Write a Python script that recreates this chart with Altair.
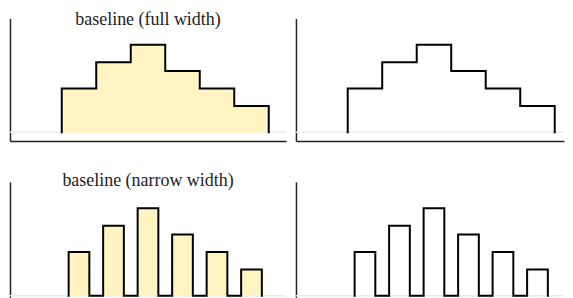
import altair as alt
import pandas as pd

values = [5, 8, 10, 7, 5, 3]
edges = [1, 2, 3, 4, 5, 6, 7]
narrow = 0.6
titles = ["baseline (full width)", "baseline (narrow width)"]
fill_color = "#fff4c2"

W, H = 277, 123
W_RIGHT = 269  # right column cut at the page edge

# full-width bins
full_rects = pd.DataFrame({"x": edges[:-1], "x2": edges[1:], "y": [0] * len(values), "y2": values})
full_pts = [(edges[0], 0)]
for i, v in enumerate(values):
    full_pts.append((edges[i], v))
    full_pts.append((edges[i + 1], v))
full_pts.append((edges[-1], 0))
full_line = pd.DataFrame({"x": [p[0] for p in full_pts], "y": [p[1] for p in full_pts], "o": range(len(full_pts))})

# narrow-width bins
centers = [(edges[i] + edges[i + 1]) / 2 for i in range(len(values))]
lo = [c - narrow / 2 for c in centers]
hi = [c + narrow / 2 for c in centers]
narrow_rects = pd.DataFrame({"x": lo, "x2": hi, "y": [0] * len(values), "y2": values})
n_pts = []
for i, v in enumerate(values):
    n_pts += [(lo[i], 0), (lo[i], v), (hi[i], v), (hi[i], 0)]
narrow_line = pd.DataFrame({"x": [p[0] for p in n_pts], "y": [p[1] for p in n_pts], "o": range(len(n_pts))})

x_lo, x_hi = -0.5, 7.5
ys = alt.Scale(domain=[-1, 13], nice=False, zero=False)
ax = alt.Axis(title=None, labels=False, ticks=False, grid=False, domain=True)


def panel(rects, line, filled, width, title=None, ty=6.7):
    xs = alt.Scale(domain=[x_lo, x_lo + (x_hi - x_lo) * width / W], nice=False, zero=False)
    base_rule = alt.Chart(pd.DataFrame({"y": [0]})).mark_rule(color="#ebebeb", strokeWidth=1.5).encode(
        y=alt.Y("y:Q", scale=ys, axis=ax), x=alt.value(0), x2=alt.value(width)
    )
    layers = [base_rule]
    if filled:
        layers.append(
            alt.Chart(rects).mark_rect(fill=fill_color, stroke=fill_color, strokeWidth=1).encode(
                x=alt.X("x:Q", scale=xs, axis=ax), x2="x2:Q", y=alt.Y("y:Q", scale=ys, axis=ax), y2="y2:Q"
            )
        )
    layers.append(
        alt.Chart(line).mark_line(color="black", strokeWidth=2, strokeJoin="miter", strokeCap="square").encode(
            x=alt.X("x:Q", scale=xs, axis=ax), y=alt.Y("y:Q", scale=ys, axis=ax), order="o:Q"
        )
    )
    if title:
        layers.append(
            alt.Chart(pd.DataFrame({"t": [title]})).mark_text(
                font="Liberation Serif", fontSize=18, color="#222", baseline="alphabetic", align="center"
            ).encode(text="t:N", x=alt.value(width / 2), y=alt.value(ty))
        )
    return alt.layer(*layers).properties(width=width, height=H)


chart = alt.concat(
    panel(full_rects, full_line, True, W, titles[0], 6.7),
    panel(full_rects, full_line, False, W_RIGHT),
    panel(narrow_rects, narrow_line, True, W, titles[1], 4.3),
    panel(narrow_rects, narrow_line, False, W_RIGHT),
    columns=2, spacing={"row": 41, "column": 10}, bounds="flush",
).properties(
    padding={"left": 1, "top": 2, "right": 0, "bottom": 0}
).configure_view(stroke=None).configure_axis(domainColor="#222", domainWidth=1.5)

chart.save("out.html", embed_options={"renderer": "svg", "actions": False})
